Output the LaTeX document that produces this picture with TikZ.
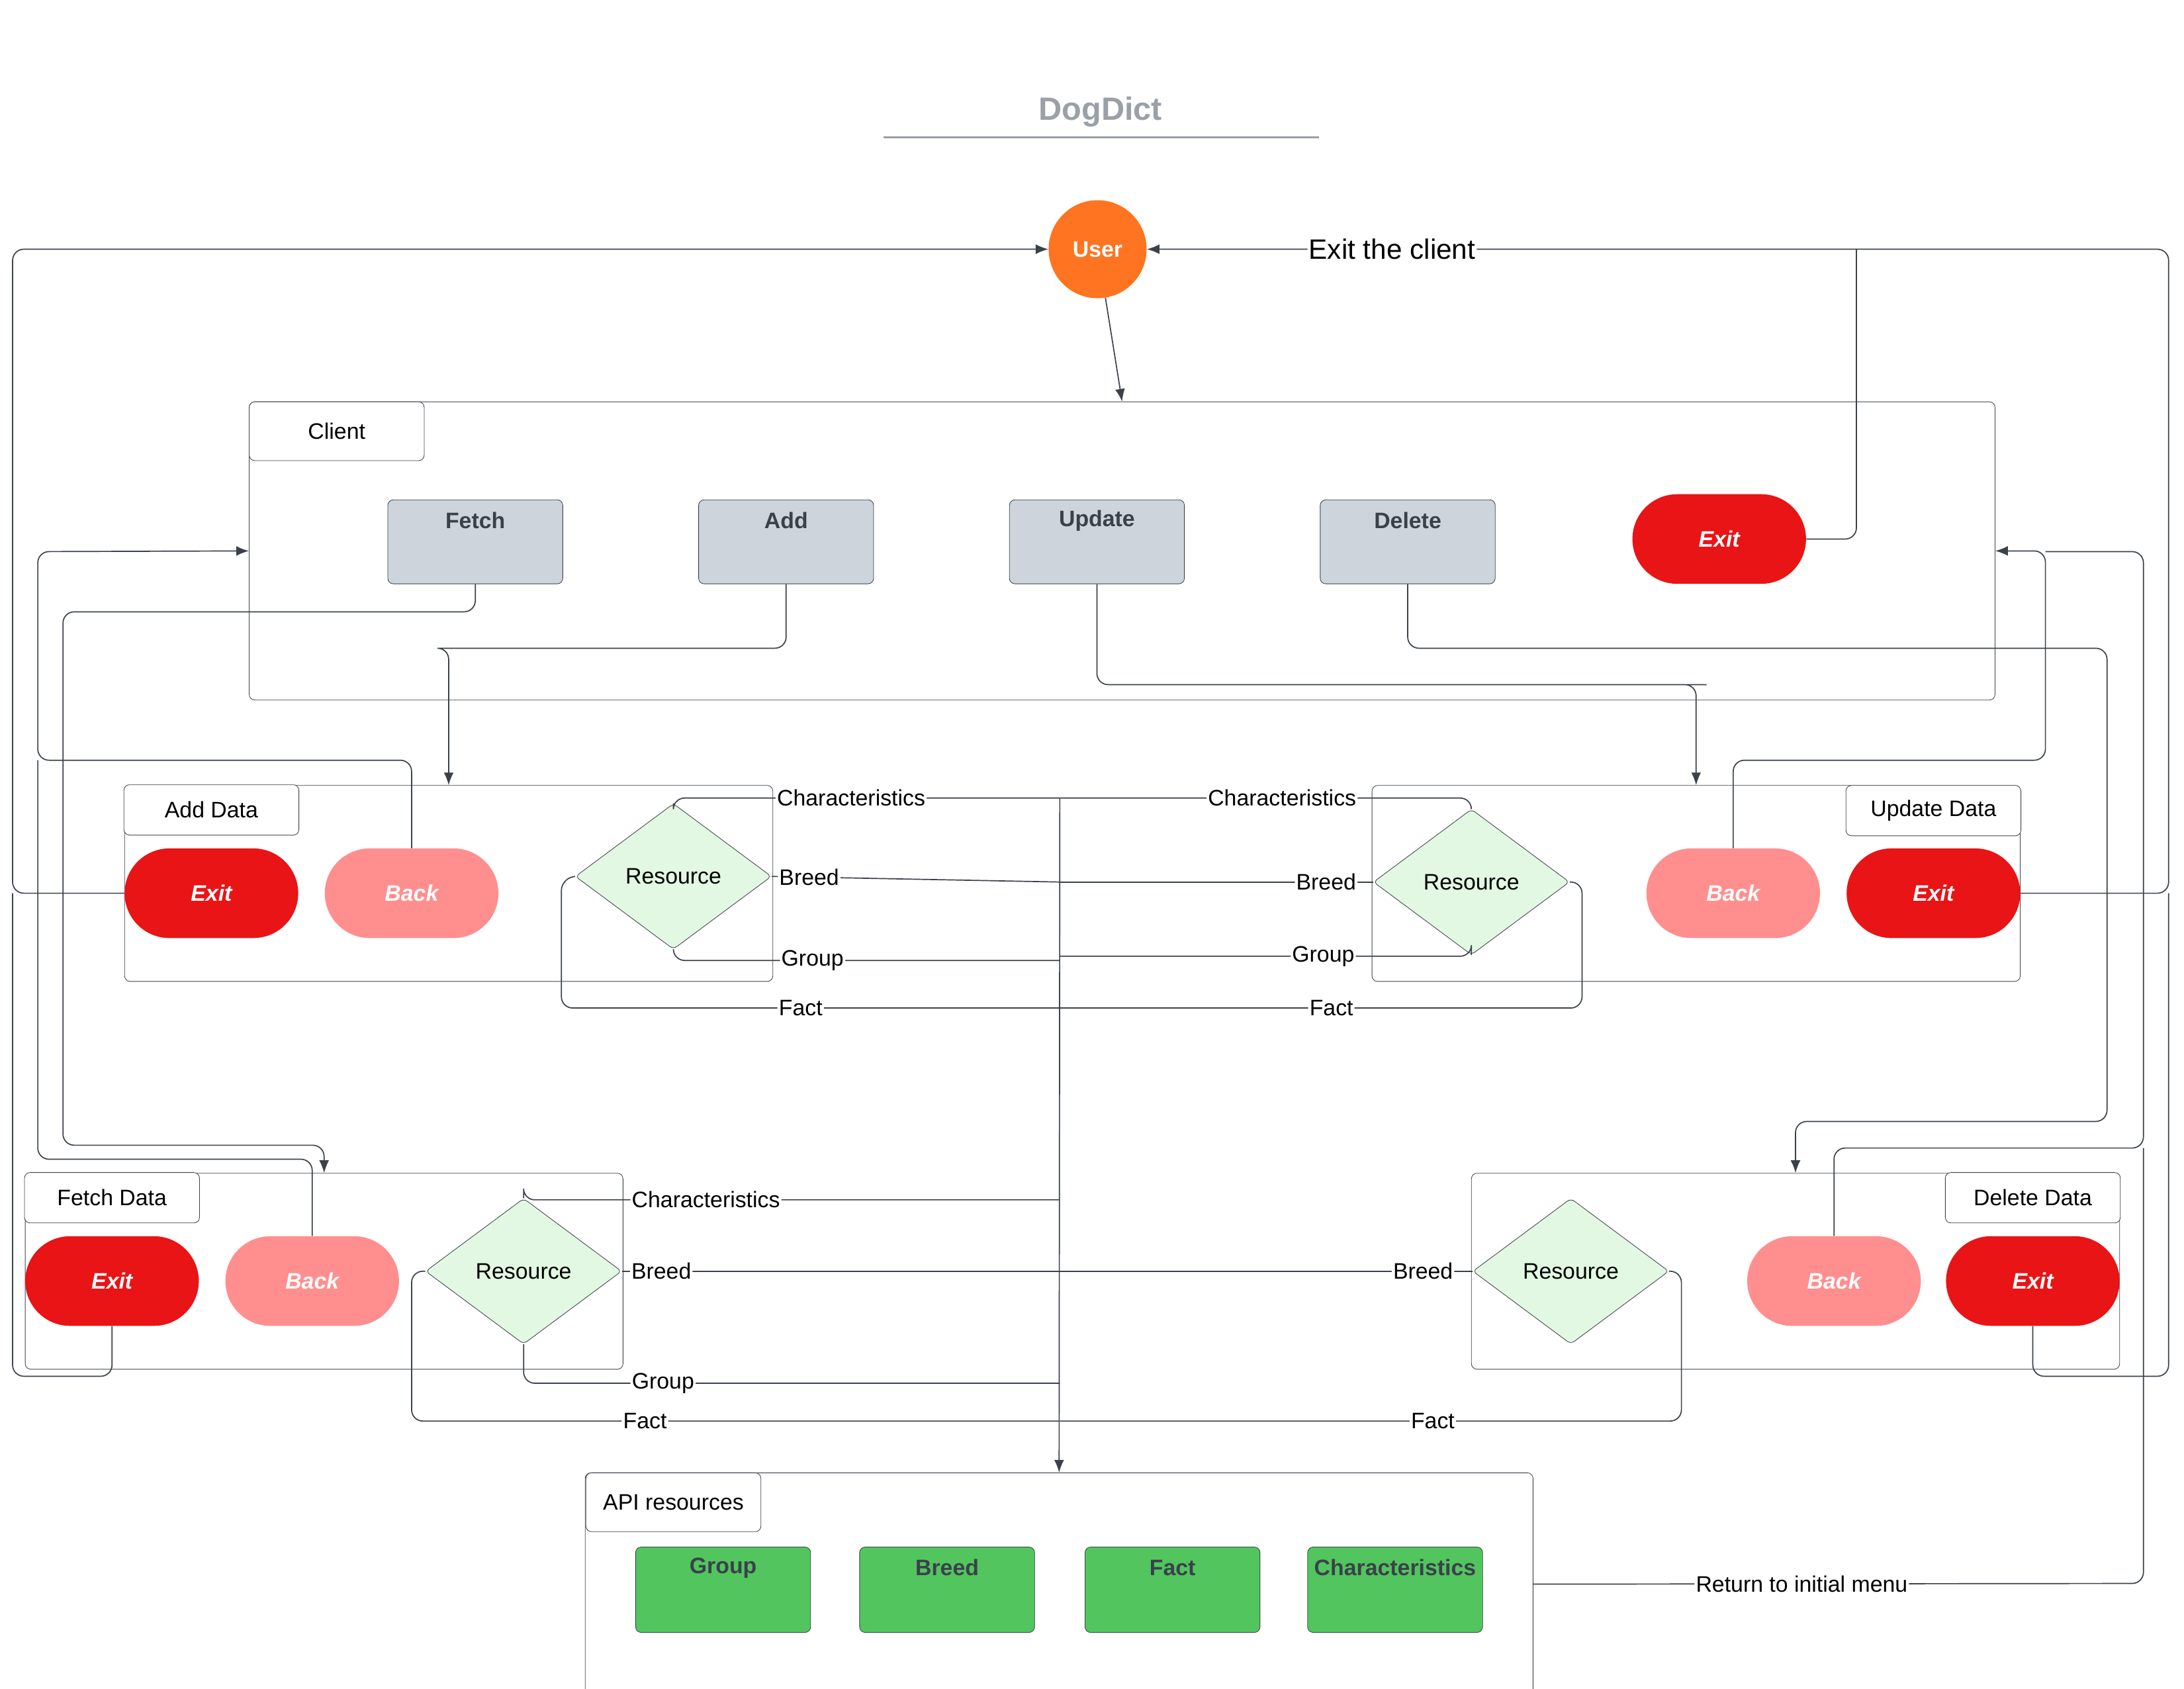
\documentclass[tikz,border=0pt]{standalone}
\usepackage{fontspec}
\setmainfont{Liberation Sans}
\usetikzlibrary{shapes.geometric,arrows.meta}
\definecolor{userorange}{HTML}{FF7420}
\definecolor{exitred}{HTML}{E81416}
\definecolor{backpink}{HTML}{FF8F8F}
\definecolor{btngray}{HTML}{CED4DC}
\definecolor{resgreen}{HTML}{52C55E}
\definecolor{diagreen}{HTML}{E2F8E2}
\definecolor{wirecol}{HTML}{3A414A}
\definecolor{titlegray}{HTML}{9AA0A8}
\tikzset{
  frame/.style={draw=wirecol, rounded corners=4, inner sep=0},
  tag/.style={frame, fill=white, minimum width=125pt, minimum height=36pt, font=\fontsize{16}{18}\selectfont},
  btn/.style={frame, fill=btngray, minimum width=125pt, minimum height=60pt},
  res/.style={frame, fill=resgreen, minimum width=125pt, minimum height=61pt},
  btntxt/.style={font=\bfseries\fontsize{16}{18}\selectfont, text=wirecol},
  pill/.style={rounded corners=32, minimum width=124pt, minimum height=64pt, inner sep=0, text=white, font=\bfseries\itshape\fontsize{16}{18}\selectfont},
  exitpill/.style={pill, fill=exitred},
  backpill/.style={pill, fill=backpink},
  resource/.style={diamond, draw=wirecol, fill=diagreen, minimum width=140pt, minimum height=104pt, inner sep=0, rounded corners=3, font=\fontsize{16}{18}\selectfont},
  wire/.style={draw=wirecol, rounded corners=8, line width=0.8pt},
  arr/.style={-{Latex[length=9pt,width=7pt]}},
  lbl/.style={fill=white, inner sep=1pt, font=\fontsize{16}{18}\selectfont}
}
\begin{document}
\begin{tikzpicture}[x=1pt, y=-1pt]
  \useasboundingbox (0,0) rectangle (1560,1206);
  % title
  \node[font=\bfseries\fontsize{23}{26}\selectfont, text=titlegray] (title) at (786,80) {DogDict};
  \draw[titlegray, line width=1.2pt] (631,98) -- (942,98);
  \node[circle, fill=userorange, minimum size=70pt, inner sep=0, text=white, font=\bfseries\fontsize{16}{18}\selectfont] (user) at (784,178) {User};

  % client
  \node[frame, minimum width=1247pt, minimum height=213pt] (client) at (801.5,393.5) {};
  \node[tag, minimum height=42pt] (clienttag) at (240.5,308) {Client};
  \node[btn] (fetch) at (339.5,387) {};
  \node[btn] (add) at (561.5,387) {};
  \node[btn] (update) at (783.5,387) {};
  \node[btn] (delete) at (1005.5,387) {};
  \node[btntxt] at ([yshift=-15pt]fetch.north) {Fetch};
  \node[btntxt] at ([yshift=-15pt]add.north) {Add};
  \node[btntxt] at ([yshift=-15pt]update.north) {Update};
  \node[btntxt] at ([yshift=-15pt]delete.north) {Delete};
  \node[exitpill] (exitC) at (1228,385) {Exit};

  % add data
  \node[frame, minimum width=463pt, minimum height=140pt] (adata) at (320.5,631) {};
  \node[tag] (adatatag) at (151,578.5) {Add Data};
  \node[exitpill] (exitA) at (151,638) {Exit};
  \node[backpill] (backA) at (294,638) {Back};
  \node[resource] (rA) at (481,626) {Resource};

  % update data
  \node[frame, minimum width=463pt, minimum height=140pt] (udata) at (1211.5,631) {};
  \node[tag] (udatatag) at (1381,579) {Update Data};
  \node[backpill] (backU) at (1238,638) {Back};
  \node[exitpill] (exitU) at (1381,638) {Exit};
  \node[resource] (rU) at (1051,630) {Resource};

  % fetch data
  \node[frame, minimum width=427pt, minimum height=140pt] (fdata) at (231.5,908) {};
  \node[tag] (fdatatag) at (80,855.5) {Fetch Data};
  \node[exitpill] (exitF) at (80,915) {Exit};
  \node[backpill] (backF) at (223,915) {Back};
  \node[resource] (rF) at (374,908) {Resource};

  % delete data
  \node[frame, minimum width=463pt, minimum height=140pt] (ddata) at (1282.5,908) {};
  \node[tag] (ddatatag) at (1452,855.5) {Delete Data};
  \node[backpill] (backD) at (1310,915) {Back};
  \node[exitpill] (exitD) at (1452,915) {Exit};
  \node[resource] (rD) at (1122,908) {Resource};

  % api
  \node[frame, minimum width=677pt, minimum height=159pt] (api) at (756.5,1131.5) {};
  \node[tag, minimum height=42pt] (apitag) at (481,1073) {API resources};
  \node[res] (group) at (516.5,1135.5) {};
  \node[res] (breed) at (676.5,1135.5) {};
  \node[res] (fact) at (837.5,1135.5) {};
  \node[res] (charac) at (996.5,1135.5) {};
  \node[btntxt] at ([yshift=-15pt]group.north) {Group};
  \node[btntxt] at ([yshift=-15pt]breed.north) {Breed};
  \node[btntxt] at ([yshift=-15pt]fact.north) {Fact};
  \node[btntxt] at ([yshift=-15pt]charac.north) {Characteristics};

  % user and exits
  \draw[wire, arr] (user) -- (client.north);
  \draw[wire, arr] (exitU.east) -| (1549,178) -- node[lbl, pos=0.76, font=\fontsize{20}{22}\selectfont]{Exit the client} (user.east);
  \draw[wire] (exitC.east) -| (1326,178);
  \draw[wire, arr] (exitA.west) -| (9,178) -- (user.west);
  \draw[wire] (exitF.south) |- (9,983) -- (9,638);
  \draw[wire] (exitD.south) |- (1549,983) -- (1549,638);

  % menu choices
  \draw[wire, arr] (fetch.south) |- (45,437) -- (45,818) -| (fdata.north);
  \draw[wire, arr] (add.south) |- (320,463) -| (adata.north);
  \draw[wire, arr] (update.south) |- (1211,489) -| (udata.north);
  \draw[wire, arr] (delete.south) |- (1505,463) -- (1505,801) -| (ddata.north);

  % back
  \draw[wire, arr] (backA.north) |- (27,543) -- (27,394) -- (client.west);
  \draw[wire] (backF.north) |- (27,828) -- (27,543);
  \draw[wire, arr] (backU.north) |- (1461,543) |- (client.east);
  \draw[wire] (backD.north) |- (1531,820) -- (1531,394) -- (1461,394);
  \draw[wire] (api.east) -- node[lbl, pos=0.44]{Return to initial menu} (1531,1131) -- (1531,820);

  % resources to api
  \draw[wire, arr] (757,570) -- (api.north);
  \draw[wire] (rA.north) |- node[lbl, pos=0.73]{Characteristics} (757,570);
  \draw[wire] (rA.east) -- node[lbl, pos=0.13]{Breed} (757,630);
  \draw[wire] (rA.south) |- node[lbl, pos=0.68]{Group} (757,686);
  \draw[wire] (rA.west) -- (401,628) |- node[lbl, pos=0.74]{Fact} (757,720);
  \draw[wire] (rU.north) |- node[lbl, pos=0.73]{Characteristics} (757,570);
  \draw[wire] (rU.west) -- node[lbl, pos=0.15]{Breed} (757,630);
  \draw[wire] (rU.south) |- node[lbl, pos=0.68]{Group} (757,683);
  \draw[wire] (rU.east) -- (1130,630) |- node[lbl, pos=0.74]{Fact} (757,720);
  \draw[wire] (rF.north) |- node[lbl, pos=0.67]{Characteristics} (757,857);
  \draw[wire] (rF.east) -- node[lbl, pos=0.09]{Breed} (757,908);
  \draw[wire] (rF.south) |- node[lbl, pos=0.63]{Group} (757,988);
  \draw[wire] (rF.west) -- (294,908) |- node[lbl, pos=0.68]{Fact} (757,1015);
  \draw[wire] (rD.west) -- node[lbl, pos=0.12]{Breed} (757,908);
  \draw[wire] (rD.east) -- (1201,908) |- node[lbl, pos=0.70]{Fact} (757,1015);
\end{tikzpicture}
\end{document}
